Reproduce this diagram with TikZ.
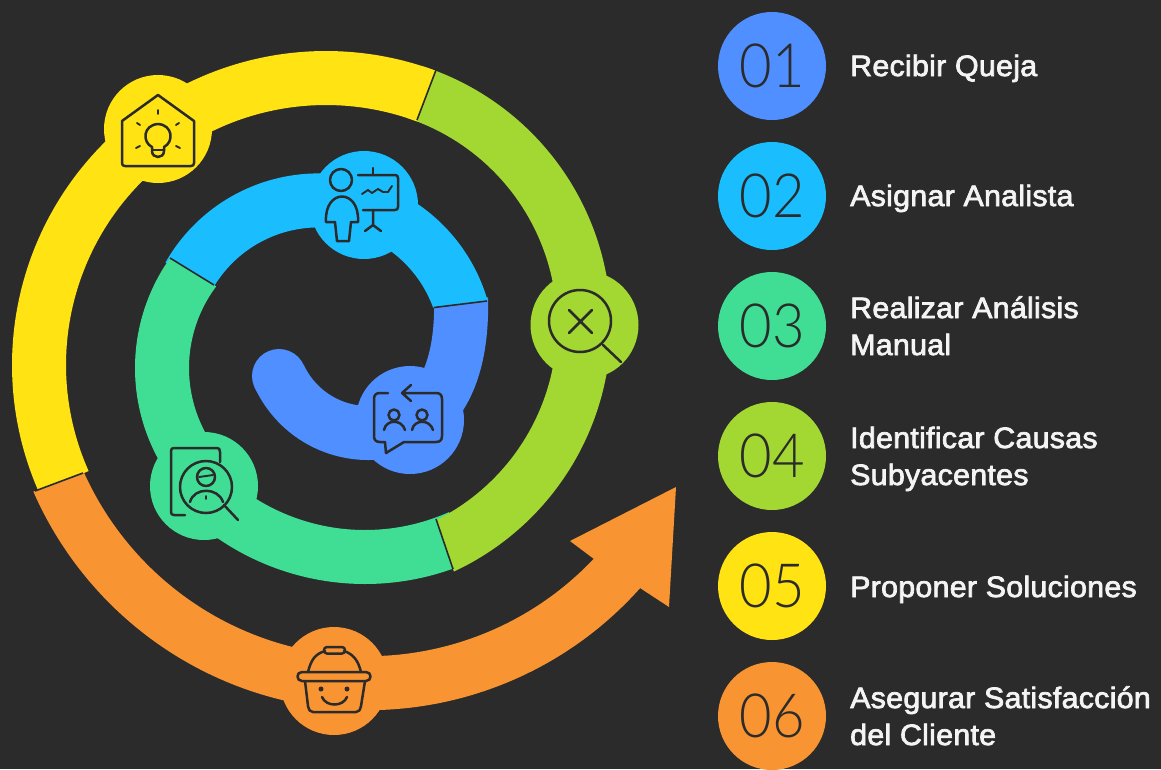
\documentclass[tikz,border=0pt]{standalone}
\usepackage{fontspec}
\usetikzlibrary{calc}
\newfontfamily\lblfont{Liberation Sans}[FakeStretch=1.03,LetterSpace=0.9,RawFeature={embolden=2.4}]
\newfontfamily\numfont{Lato Light}[FakeStretch=0.92]
\definecolor{bgc}{HTML}{2B2B2B}
\definecolor{cblue}{HTML}{4F8FFF}
\definecolor{ccyan}{HTML}{1ABEFF}
\definecolor{cgreen}{HTML}{40DE95}
\definecolor{clime}{HTML}{A3D833}
\definecolor{cyel}{HTML}{FFE312}
\definecolor{corg}{HTML}{F89432}
\definecolor{txtc}{HTML}{F4F4F4}
\tikzset{
  band/.style={line width=54pt,line cap=butt,line join=round},
  seam/.style={draw=bgc,line width=1.6pt},
  hub/.style={circle,minimum size=108pt,inner sep=0pt,fill=#1},
  badge/.style={circle,minimum size=108pt,inner sep=0pt,fill=#1,text=bgc,font=\numfont\fontsize{61}{61}\selectfont},
  lbl/.style={anchor=base west,inner sep=0pt,text=txtc,font=\lblfont\fontsize{29.5}{29.5}\selectfont},
  icon/.style={draw=bgc,line width=2.5pt,line cap=round,line join=round},
  dot/.style={fill=bgc,draw=none}
}
% colour, cx, cy, R, from, to
\newcommand{\bandarc}[6]{\draw[band,#1] plot[domain=#5:#6,samples=120] ({#2+#4*cos(\x)},{#3+#4*sin(\x)});}
% keep only one side of the seam A-B, offset by (dx,dy)
\newcommand{\keepside}[4]{%
  \coordinate (pa) at ($(#1)!-12!(#2)$);
  \coordinate (pb) at ($(#2)!-12!(#1)$);
  \clip (pa) -- (pb) -- ($(pb)+(#3,#4)$) -- ($(pa)+(#3,#4)$) -- cycle;}
\begin{document}
\begin{tikzpicture}[x=1pt,y=-1pt]
\useasboundingbox[fill=bgc] (0,0) rectangle (1161,769);
% seam end points
\coordinate (s1a) at (434,307.5); \coordinate (s1b) at (487,301);
\coordinate (s2a) at (170,258); \coordinate (s2b) at (214,285);
\coordinate (s3a) at (436,519); \coordinate (s3b) at (453,569);
\coordinate (s4a) at (417,120); \coordinate (s4b) at (436,70);
\coordinate (s5a) at (35,491);  \coordinate (s5b) at (83,473);
% spiral bands
\draw[band,cblue] (461,298) .. controls (463,370) and (440,433) .. (368,433);
\bandarc{cblue}{368.2}{335}{98}{88}{155.3}
\fill[cblue] (279,376) circle (27);
\begin{scope}
\keepside{s1a}{s1b}{0}{-1500}
\bandarc{ccyan}{318.5}{349.4}{149}{-10}{-150.5}
\end{scope}
\begin{scope}
\keepside{s2a}{s2b}{0}{1500}
\bandarc{cgreen}{325}{368}{163}{225}{128}
\bandarc{cgreen}{365}{324}{233}{136}{66}
\end{scope}
\begin{scope}
\keepside{s3a}{s3b}{1500}{0}
\bandarc{clime}{339}{325}{245}{72}{-72}
\end{scope}
\begin{scope}
\keepside{s4a}{s4b}{-1500}{0}
\bandarc{cyel}{326}{365}{287}{-62}{-204}
\end{scope}
\begin{scope}
\keepside{s5a}{s5b}{0}{1500}
\bandarc{corg}{367.7}{345.2}{338}{162}{40.5}
\end{scope}
\fill[corg] (676,487) -- (570,541) -- (594,559) -- (640,588) -- (669,607) -- cycle;
% seams
\draw[seam] (s1a)--(s1b); \draw[seam] (s2a)--(s2b); \draw[seam] (s3a)--(s3b);
\draw[seam] (s4a)--(s4b); \draw[seam] (s5a)--(s5b);
% hubs
\node[hub=cblue]  (h1) at (410,420) {};
\node[hub=ccyan]  (h2) at (364,205) {};
\node[hub=cgreen] (h3) at (204,486) {};
\node[hub=clime]  (h4) at (584.5,325) {};
\node[hub=cyel]   (h5) at (158,129) {};
\node[hub=corg]   (h6) at (334,681) {};
% chat icon
\draw[icon] (388,393) -- (380,393) .. controls (376,393) and (374,395) .. (374,399) -- (374,436) .. controls (374,440) and (376,442) .. (380,442) -- (385,442) -- (386,453) -- (404,442) -- (436,442) .. controls (440,442) and (442,440) .. (442,436) -- (442,399) .. controls (442,395) and (440,393) .. (436,393) -- (402,393) -- (411,385) (402,393) -- (411,401);
\draw[icon] (394,415) circle (5.5);
\draw[icon] (422,415) circle (5.5);
\draw[icon] (384,430) .. controls (386,419) and (402,419) .. (405,430);
\draw[icon] (412,430) .. controls (414,419) and (430,419) .. (433,430);
% presenter icon
\draw[icon] (341,180) circle (11);
\draw[icon] (326,222) .. controls (324,188) and (360,188) .. (358,222) -- (351,222) -- (349,241) -- (337,241) -- (335,222) -- cycle;
\draw[icon] (358,175) -- (395,175) .. controls (397,175) and (398,176) .. (398,178) -- (398,207) .. controls (398,209) and (397,210) .. (395,210) -- (363,210);
\draw[icon] (373,168) -- (373,175);
\draw[icon] (373,210) -- (373,225) (365,231) -- (373,225) -- (381,231);
\draw[icon,line width=1.9pt] (362,194) -- (368,190) -- (372,193) -- (378,189) -- (383,192) -- (388,192) -- (392,186);
% document search icon
\draw[icon] (220,462) -- (220,452) .. controls (220,449) and (219,448) .. (217,448) -- (174,448) .. controls (172,448) and (171,449) .. (171,451) -- (171,512) .. controls (171,514) and (172,515) .. (174,515) -- (185,515);
\draw[icon] (206,487) circle (26);
\draw[icon] (224,505) -- (238,520);
\draw[icon] (206,477) circle (9);
\draw[icon,line width=1.9pt] (199,477) -- (213,475);
\draw[icon] (190,502) .. controls (194,487) and (218,487) .. (223,502);
\draw[icon,line width=1.9pt] (206,496) -- (206,499);
% magnifier icon
\draw[icon] (580,321) circle (31);
\draw[icon] (603,345) -- (621,362);
\draw[icon] (569,310) -- (592,333) (592,310) -- (569,333);
% bulb house icon
\draw[icon] (158,95) -- (122,121) -- (122,163) .. controls (122,165) and (123,166) .. (125,166) -- (191,166) .. controls (193,166) and (194,165) .. (194,163) -- (194,121) -- cycle;
\draw[icon] (152,147) .. controls (142,142) and (143,125) .. (158,124) .. controls (173,125) and (174,142) .. (164,147) -- (164,151) .. controls (164,159) and (152,159) .. (152,151) -- cycle;
\draw[icon] (152,150) -- (164,150);
\draw[icon,line width=1.9pt] (158,110) -- (158,114) (137,123) -- (140,125) (179,123) -- (176,125) (136,148) -- (140,146) (180,148) -- (176,146);
% basket icon
\draw[icon] (302,672) -- (366,672) .. controls (372,672) and (372,681) .. (366,681) -- (302,681) .. controls (296,681) and (296,672) .. (302,672) -- cycle;
\draw[icon] (305,681) -- (308,706) .. controls (309,710) and (310,712) .. (313,712) -- (356,712) .. controls (359,712) and (360,710) .. (361,706) -- (365,681);
\draw[icon] (308,672) .. controls (311,660) and (315,654) .. (325,651) (344,651) .. controls (353,654) and (358,660) .. (361,672);
\draw[icon] (327,647) -- (342,647) .. controls (346,647) and (346,653.5) .. (342,653.5) -- (327,653.5) .. controls (323,653.5) and (323,647) .. (327,647) -- cycle;
\fill[dot] (321,689) circle (2.5) (347,689) circle (2.5);
\draw[icon] (322,697) .. controls (326,707) and (343,707) .. (347,697);
% legend
\node[badge=cblue]  (b1) at (772,66)  {01};
\node[badge=ccyan]  (b2) at (772,196) {02};
\node[badge=cgreen] (b3) at (772,326) {03};
\node[badge=clime]  (b4) at (772,456) {04};
\node[badge=cyel]   (b5) at (772,586) {05};
\node[badge=corg]   (b6) at (772,716) {06};
\node[lbl] (t1) at (850,76) {Recibir Queja};
\node[lbl] (t2) at (850,206) {Asignar Analista};
\node[lbl] (t3a) at (850,318) {Realizar Análisis};
\node[lbl] (t3b) at (850,355) {Manual};
\node[lbl] (t4a) at (850,448) {Identificar Causas};
\node[lbl] (t4b) at (850,485) {Subyacentes};
\node[lbl] (t5) at (850,597) {Proponer Soluciones};
\node[lbl] (t6a) at (850,708) {Asegurar Satisfacción};
\node[lbl] (t6b) at (850,745) {del Cliente};
\end{tikzpicture}
\end{document}
